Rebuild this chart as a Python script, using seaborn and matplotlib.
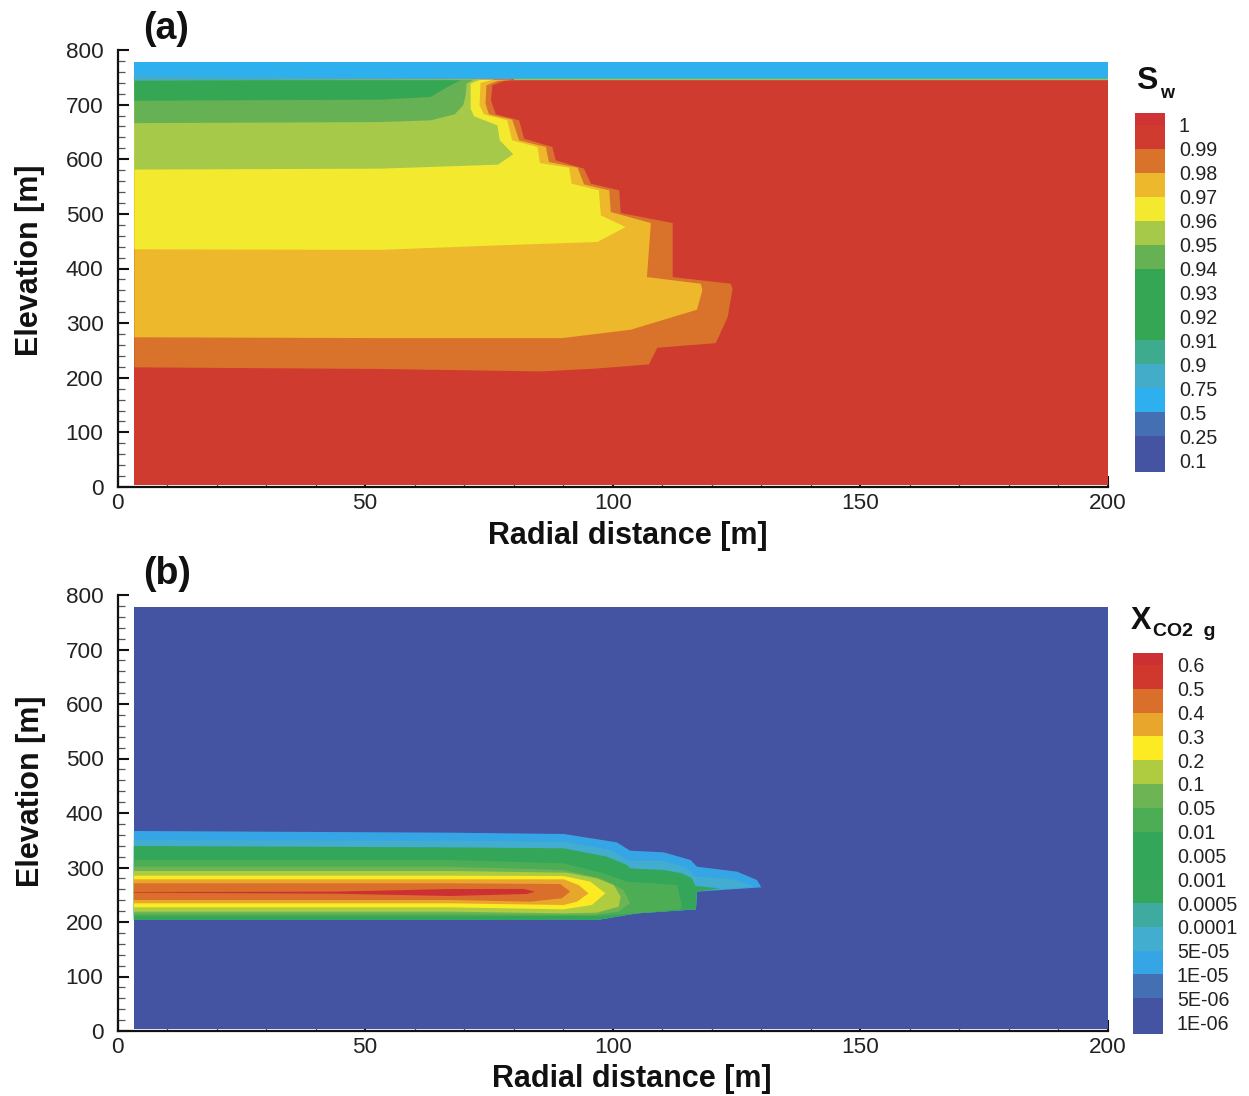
import numpy as np
import seaborn as sns
import matplotlib.pyplot as plt
from matplotlib.colors import ListedColormap

# model domain
r_min, r_max = 3.3, 200
z_min, z_max = 3, 778

# panel (a) colours, one per contour interval, top of the legend first
sw_labels = ["1", "0.99", "0.98", "0.97", "0.96", "0.95", "0.94", "0.93", "0.92",
             "0.91", "0.9", "0.75", "0.5", "0.25", "0.1"]
sw_colors = ["#CF3335", "#CF3B2F", "#D9732C", "#EDB82B", "#F3E92F", "#A6C94A", "#67B155",
             "#35A654", "#35A654", "#35A654", "#3EAA8E", "#43ADC9", "#2EB0EF", "#4470B3",
             "#4553A3", "#4553A3"]

# Sw contour fronts (radius, elevation)
sw_r_099 = [82.7, 77.9, 75.6, 75.3, 76.3, 81.0, 82.0, 87.7, 88.4, 94.1, 95.5, 101.2, 101.5, 112.0,
            112.0, 123.7, 124.1, 123.1, 120.7, 108.9, 107.2, 96.1, 85.4, 53.0, 3.3]
sw_z_099 = [746.7, 744.2, 736.3, 708.8, 683.2, 672.2, 638.6, 623.3, 598.9, 583.7, 556.2, 544.0, 502.5, 484.1,
            385.2, 373.0, 363.9, 312.0, 264.3, 255.8, 225.3, 217.4, 212.5, 217.0, 220.0]
sw_r_098 = [80.0, 76.6, 74.4, 74.2, 74.9, 79.6, 81.0, 86.4, 87.0, 92.8, 94.1, 99.2, 99.5, 107.6,
            106.8, 117.7, 118.0, 116.9, 103.5, 89.7, 53.0, 3.3]
sw_z_098 = [746.7, 744.2, 736.3, 702.7, 683.2, 673.4, 635.5, 623.3, 595.9, 585.5, 555.0, 544.0, 504.3, 484.1,
            385.2, 373.0, 360.8, 325.4, 288.8, 273.5, 273.5, 275.0]
sw_r_097 = [75.9, 73.2, 73.0, 73.9, 78.6, 79.6, 84.7, 85.2, 91.1, 91.6, 97.1, 97.5, 102.5, 96.8, 76.6, 53.0, 3.3]
sw_z_097 = [746.7, 740.6, 699.6, 683.2, 672.2, 635.5, 623.3, 594.0, 585.5, 556.2, 544.0, 498.2, 476.8, 449.4,
            443.2, 435.0, 436.0]
sw_r_096 = [73.2, 71.2, 71.2, 71.9, 76.6, 77.1, 79.8, 76.7, 53.0, 3.3]
sw_z_096 = [746.7, 739.3, 693.5, 679.5, 663.0, 635.5, 610.0, 591.0, 583.7, 582.0]
sw_r_095 = [71.9, 70.4, 70.2, 69.7, 68.0, 63.1, 53.0, 3.3]
sw_z_095 = [746.7, 739.3, 718.0, 699.6, 683.2, 672.2, 669.0, 667.0]
sw_r_094 = [69.2, 66.5, 63.1, 53.0, 3.3]
sw_z_094 = [745.4, 733.2, 715.0, 710.0, 708.0]
sw_r_top = [3.3, 70.0, 3.3]
sw_z_top = [744.0, 747.0, 753.0]
sw_fronts = [(sw_r_099, sw_z_099, 2), (sw_r_098, sw_z_098, 3), (sw_r_097, sw_z_097, 4),
             (sw_r_096, sw_z_096, 5), (sw_r_095, sw_z_095, 6), (sw_r_094, sw_z_094, 7)]

# panel (b) colours
x_labels = ["0.6", "0.5", "0.4", "0.3", "0.2", "0.1", "0.05", "0.01", "0.005", "0.001", "0.0005",
            "0.0001", "5E-05", "1E-05", "5E-06", "1E-06"]
x_colors = ["#CC3033", "#D0382E", "#D96F2B", "#E8A62C", "#FCEB23", "#AFCB3F", "#6DB554", "#4CAD55",
            "#33A65A", "#33A65A", "#36A75A", "#3EAAA0", "#43ADD0", "#36A5E6", "#4470B3", "#4553A3", "#4553A3"]

# closed outlines of the CO2 plume, outermost level first
x_r_1e5 = [3.3, 67.2, 90.1, 100.8, 103.5, 110.3, 115.7, 117.0, 125.1, 129.1, 130.0, 117.0, 116.8, 104.9, 96.8, 67.2, 3.3]
x_z_1e5 = [367.0, 363.9, 361.5, 346.2, 330.9, 327.8, 313.8, 301.5, 292.4, 277.1, 263.6, 255.7, 223.2, 215.9, 203.7, 203.7, 203.7]
x_r_1e4 = [3.3, 67.2, 90.1, 99.5, 103.2, 110.3, 115.0, 116.8, 124.4, 128.5, 119.4, 117.0, 116.8, 104.9, 96.8, 67.2, 3.3]
x_z_1e4 = [350.5, 349.2, 347.4, 332.1, 312.5, 312.5, 298.5, 283.2, 278.3, 264.8, 258.7, 255.7, 223.2, 215.9, 203.7, 203.7, 203.7]
x_r_5e4 = [3.3, 67.2, 90.1, 98.8, 102.9, 103.5, 110.3, 114.0, 116.0, 116.7, 121.7, 117.0, 116.8, 104.9, 96.8, 67.2, 3.3]
x_z_5e4 = [339.4, 337.0, 335.2, 319.9, 304.6, 298.5, 295.4, 289.3, 280.1, 266.0, 261.8, 255.7, 223.2, 215.9, 203.7, 203.7, 203.7]
x_r_001 = [3.3, 67.2, 90.1, 98.1, 102.9, 113.0, 114.0, 113.6, 104.9, 96.8, 90.1, 67.2, 3.3]
x_z_001 = [313.8, 313.8, 307.6, 289.3, 274.0, 267.9, 228.1, 223.2, 215.9, 211.0, 211.0, 211.0, 211.0]
x_r_005 = [3.3, 67.2, 90.1, 97.5, 102.2, 103.5, 101.2, 96.1, 67.2, 3.3]
x_z_005 = [301.5, 301.5, 295.4, 280.1, 258.7, 234.3, 219.0, 212.9, 214.7, 214.7]
x_r_01 = [3.3, 67.2, 90.7, 96.8, 100.2, 101.6, 101.2, 96.8, 90.1, 67.2, 3.3]
x_z_01 = [293.6, 293.6, 290.5, 280.1, 267.9, 246.5, 228.1, 217.1, 215.9, 219.0, 219.0]
x_r_02 = [3.3, 67.2, 90.1, 95.5, 98.5, 95.8, 90.1, 67.2, 3.3]
x_z_02 = [285.0, 285.0, 284.4, 274.0, 252.6, 231.2, 223.2, 226.9, 226.9]
x_r_03 = [3.3, 67.2, 90.1, 93.1, 95.1, 92.8, 90.1, 67.2, 3.3]
x_z_03 = [278.3, 278.3, 278.3, 267.9, 252.6, 237.3, 231.2, 234.3, 234.3]
x_r_04 = [3.3, 67.2, 89.4, 91.4, 89.7, 83.3, 67.2, 3.3]
x_z_04 = [271.0, 271.0, 269.7, 255.7, 243.4, 237.3, 240.4, 240.4]
x_r_05 = [3.3, 43.6, 67.2, 82.0, 84.3, 82.6, 67.2, 43.6, 3.3]
x_z_05 = [255.0, 255.7, 260.5, 260.6, 255.7, 251.4, 247.7, 252.0, 253.8]
x_levels = [(x_r_1e5, x_z_1e5, 13), (x_r_1e4, x_z_1e4, 12), (x_r_5e4, x_z_5e4, 9), (x_r_001, x_z_001, 7),
            (x_r_005, x_z_005, 6), (x_r_01, x_z_01, 5), (x_r_02, x_z_02, 4), (x_r_03, x_z_03, 3),
            (x_r_04, x_z_04, 2), (x_r_05, x_z_05, 0)]

sns.set_theme(style="ticks")
plt.rcParams["font.family"] = ["Liberation Sans", "DejaVu Sans"]
plt.rcParams["xtick.direction"] = "in"
plt.rcParams["ytick.direction"] = "in"

W, H = 1249, 1096
fig = plt.figure(figsize=(W / 100, H / 100), dpi=100)


def px_axes(left, top, right, bottom):
    return fig.add_axes([left / W, 1 - bottom / H, (right - left) / W, (bottom - top) / H])


def px_text(x, y, s, size, ha="left"):
    fig.text(x / W, 1 - y / H, s, fontsize=size, fontweight="bold", ha=ha, va="center", color="#111111")


def style_axes(ax, xlab_x, xlab_y, ylab_x, ylab_y):
    ax.set_xlim(0, 200)
    ax.set_ylim(0, 800)
    ax.set_xticks(np.arange(0, 201, 50))
    ax.set_xticks(np.arange(0, 201, 10), minor=True)
    ax.set_yticks(np.arange(0, 801, 100))
    ax.set_yticks(np.arange(0, 801, 20), minor=True)
    ax.tick_params(which="major", length=8, width=1.5, color="#111111", labelsize=16.2, labelcolor="#222222")
    ax.tick_params(which="minor", length=5, width=0.9, color="#555555")
    ax.tick_params(axis="y", which="major", pad=10)
    ax.tick_params(axis="x", which="major", pad=4)
    sns.despine(ax=ax)
    for side in ["left", "bottom"]:
        ax.spines[side].set_linewidth(1.6)
        ax.spines[side].set_color("#111111")
    ax.set_xlabel("Radial distance [m]", fontsize=22, fontweight="bold", va="center", color="#111111")
    ax.set_ylabel("Elevation [m]", fontsize=22, fontweight="bold", va="center", color="#111111")
    ax.xaxis.set_label_coords(xlab_x, xlab_y)
    ax.yaxis.set_label_coords(ylab_x, ylab_y)


def legend_bar(box, labels, colors):
    cax = px_axes(*box)
    counts = [1] + [2] * (len(colors) - 2) + [1]
    cells = np.repeat(np.arange(len(colors)), counts).reshape(-1, 1)
    sns.heatmap(cells, ax=cax, cmap=ListedColormap(colors), cbar=False, vmin=-0.5, vmax=len(colors) - 0.5,
                xticklabels=False, yticklabels=False)
    cax.set_yticks(np.arange(len(labels)) * 2 + 1)
    cax.set_yticklabels(labels, rotation=0, fontsize=14.1, color="#222222", va="center_baseline")
    cax.tick_params(left=False, right=False, labelleft=False, labelright=True, pad=10)


# (a) water saturation
ax_a = px_axes(117.5, 50, 1108, 487)
ax_a.fill_betweenx([z_min, z_max], r_min, r_max, color=sw_colors[1], lw=0)
for r_front, z_front, c in sw_fronts:
    ax_a.fill_betweenx(z_front, r_min, r_front, color=sw_colors[c], lw=0)
ax_a.fill_between([r_min, r_max], 747, z_max, color=sw_colors[12], lw=0)
ax_a.fill(sw_r_top, sw_z_top, color=sw_colors[11], lw=0)
sns.lineplot(x=[80, r_max], y=[746.5, 746.5], ax=ax_a, color="#9CC63F", lw=1)
style_axes(ax_a, 0.515, -0.112, -0.0884, 0.52)
legend_bar((1135, 113, 1165, 472), sw_labels, sw_colors)

# (b) CO2 mass fraction in the gas
ax_b = px_axes(117.5, 595, 1108, 1031)
ax_b.fill_betweenx([z_min, z_max], r_min, r_max, color=x_colors[-1], lw=0)
for r_line, z_line, c in x_levels:
    ax_b.fill(r_line, z_line, color=x_colors[c], lw=0)
style_axes(ax_b, 0.519, -0.111, -0.0874, 0.549)
legend_bar((1133, 653, 1163, 1034), x_labels, x_colors)

px_text(143, 29, "(a)", 27)
px_text(143, 574, "(b)", 27)
px_text(1136, 81, "S", 23)
px_text(1160, 93, "w", 13)
px_text(1131, 621, "X", 22)
px_text(1153, 632, "CO2  g", 14)

fig.savefig("out.png", dpi=100, facecolor="white")
